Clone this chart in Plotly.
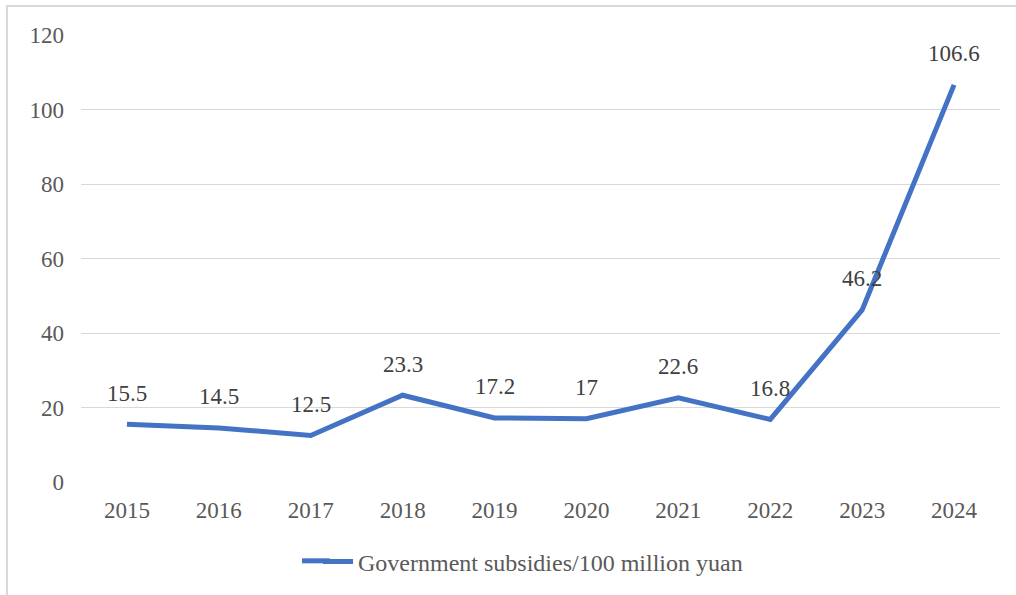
import plotly.graph_objects as go

years = ["2015", "2016", "2017", "2018", "2019", "2020", "2021", "2022", "2023", "2024"]
subsidies = [15.5, 14.5, 12.5, 23.3, 17.2, 17, 22.6, 16.8, 46.2, 106.6]
label_texts = ["15.5", "14.5", "12.5", "23.3", "17.2", "17", "22.6", "16.8", "46.2", "106.6"]
series_name = "Government subsidies/100 million yuan"
y_ticks = [0, 20, 40, 60, 80, 100, 120]

W, H = 1016, 595
L, R, T, B = 81, 16, 35, 112
pw, ph = W - L - R, H - T - B

def px_x(x):
    return (x - L) / pw

def px_y(y):
    return (H - B - y) / ph

FONT = "'Liberation Serif', 'Times New Roman', serif"
GREY = "#595959"
BLUE = "#4472C4"
FS = 23

fig = go.Figure()
fig.add_trace(go.Scatter(
    x=years, y=subsidies, mode="lines", name=series_name,
    line=dict(color=BLUE, width=5),
))

for i, (v, t) in enumerate(zip(subsidies, label_texts)):
    fig.add_annotation(x=i, y=v, xref="x", yref="y", text=t, showarrow=False, yshift=31,
                       font=dict(family=FONT, size=FS, color="#404040"))

fig.add_shape(type="rect", xref="paper", yref="paper",
              x0=px_x(7), x1=px_x(1030), y0=px_y(610), y1=px_y(6),
              line=dict(color="#D9D9D9", width=2), layer="below")

# extend legend sample line to match reference length
fig.add_shape(type="line", xref="paper", yref="paper",
              x0=px_x(302), x1=px_x(330), y0=px_y(562), y1=px_y(562),
              line=dict(color=BLUE, width=5))

fig.update_layout(
    width=W, height=H,
    margin=dict(l=L, r=R, t=T, b=B),
    paper_bgcolor="white", plot_bgcolor="white",
    font=dict(family=FONT, size=FS, color=GREY),
    showlegend=True,
    legend=dict(orientation="h", x=px_x(318), y=px_y(562), xanchor="left", yanchor="middle",
                font=dict(family=FONT, size=24, color=GREY), bgcolor="rgba(0,0,0,0)"),
    xaxis=dict(type="category", range=[-0.5, 9.5], showgrid=False, showline=False,
               ticks="", ticklabelstandoff=12, tickfont=dict(family=FONT, size=FS, color=GREY)),
    yaxis=dict(range=[0, 120], tickvals=y_ticks, showgrid=True, gridcolor="#D9D9D9",
               gridwidth=1, zeroline=False, showline=False, ticks="",
               ticklabelstandoff=16, tickfont=dict(family=FONT, size=FS, color=GREY)),
)

fig.write_html("out.html")
